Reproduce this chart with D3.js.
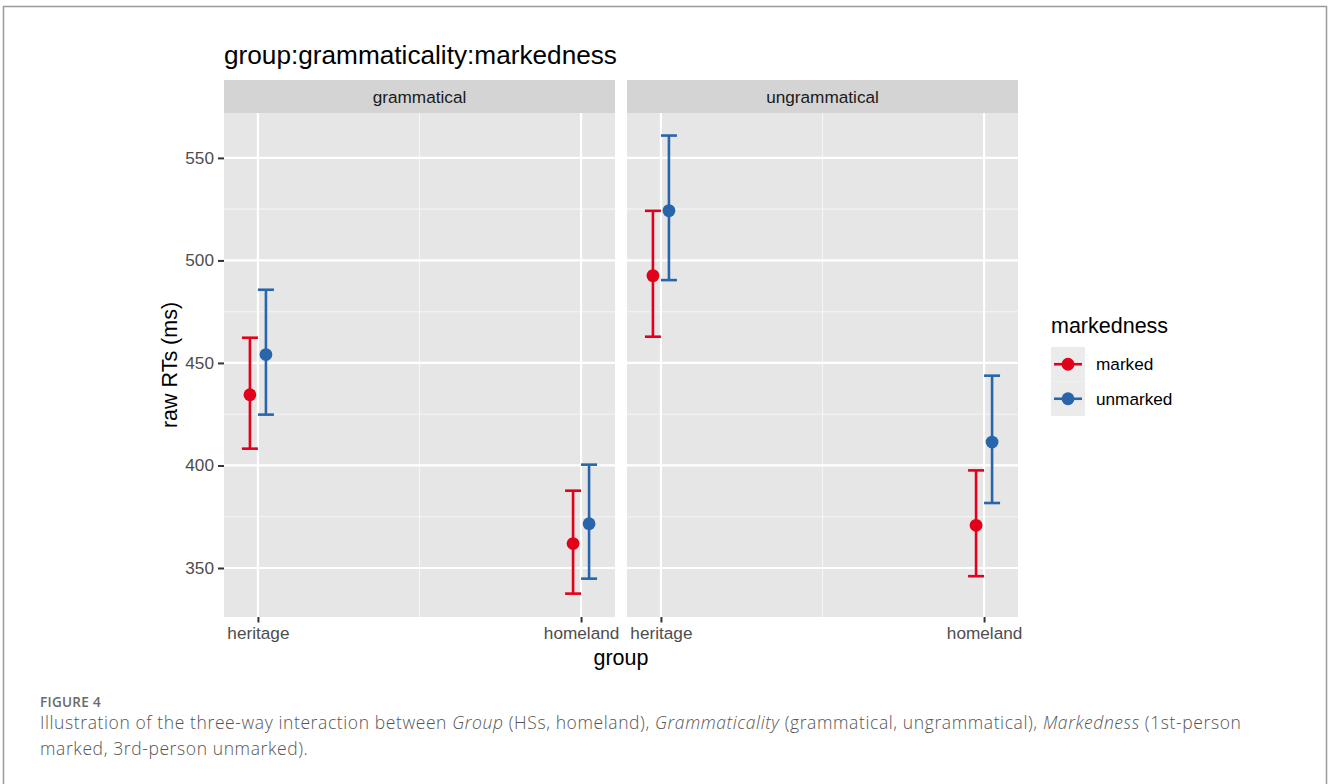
<!DOCTYPE html>
<html>
<head>
<meta charset="utf-8">
<script src="https://cdn.jsdelivr.net/npm/d3@7"></script>
<style>
  html, body { margin: 0; padding: 0; background: #ffffff; }
  svg { display: block; }
</style>
</head>
<body>
<svg id="chart" width="1328" height="784"></svg>
<script>
// Facets, x categories and colour groups
const panels = ["grammatical", "ungrammatical"];
const groups = ["heritage", "homeland"];
const markedness = ["marked", "unmarked"];

// Estimated means and interval bounds (raw RTs, ms), ordered as
// [heritage-marked, heritage-unmarked, homeland-marked, homeland-unmarked]
const grammaticalMean  = [434.5, 454.1, 361.9, 371.6];
const grammaticalLower = [408.2, 424.8, 337.5, 344.8];
const grammaticalUpper = [462.3, 485.7, 387.7, 400.4];

const ungrammaticalMean  = [492.6, 524.3, 370.8, 411.4];
const ungrammaticalLower = [462.8, 490.4, 346.0, 381.7];
const ungrammaticalUpper = [524.2, 560.9, 397.6, 443.8];

const yTicks = [350, 400, 450, 500, 550];
const yMinor = [375, 425, 475, 525];
const yDomain = [326.1, 571.9];

const palette = ["#E2001A", "#2865AB"];

// Long-format rows built from the arrays above
const rows = [];
[[grammaticalMean, grammaticalLower, grammaticalUpper],
 [ungrammaticalMean, ungrammaticalLower, ungrammaticalUpper]].forEach((set, p) => {
  groups.forEach((g, gi) => {
    markedness.forEach((m, mi) => {
      const k = gi * 2 + mi;
      rows.push({ panel: panels[p], group: g, mark: m,
                  mean: set[0][k], lo: set[1][k], hi: set[2][k] });
    });
  });
});

const svg = d3.select("#chart");
const FONT = "'Liberation Sans', Arial, Helvetica, sans-serif";

// Figure frame
svg.append("rect")
  .attr("x", 3.5).attr("y", 6.5).attr("width", 1323).attr("height", 800)
  .attr("fill", "none").attr("stroke", "#9a9a9a").attr("stroke-width", 1.5);

// Layout
const panelTop = 113, panelBottom = 617, stripTop = 80;
const panelX = { grammatical: [224, 615], ungrammatical: [627, 1018] };

const y = d3.scaleLinear().domain(yDomain).range([panelBottom, panelTop]);
const dodge = d3.scalePoint().domain(markedness).range([-8, 8]);
const color = d3.scaleOrdinal().domain(markedness).range(palette);

// Title
svg.append("text")
  .attr("x", 224).attr("y", 64)
  .attr("font-family", FONT).attr("font-size", 26.2).attr("fill", "#000")
  .text("group:grammaticality:markedness");

panels.forEach(p => {
  const [x0, x1] = panelX[p];
  const x = d3.scalePoint().domain(groups).range([x0, x1]).padding(0.105);
  const g = svg.append("g");

  // Strip
  g.append("rect").attr("x", x0).attr("y", stripTop)
    .attr("width", x1 - x0).attr("height", panelTop - stripTop).attr("fill", "#D4D4D4");
  g.append("text")
    .attr("x", (x0 + x1) / 2).attr("y", (stripTop + panelTop) / 2)
    .attr("dy", "0.35em").attr("text-anchor", "middle")
    .attr("font-family", FONT).attr("font-size", 17.2).attr("fill", "#1A1A1A")
    .text(p);

  // Panel background
  g.append("rect").attr("x", x0).attr("y", panelTop)
    .attr("width", x1 - x0).attr("height", panelBottom - panelTop).attr("fill", "#E6E6E6");

  // Minor grid
  g.selectAll(".ymin").data(yMinor).join("line")
    .attr("x1", x0).attr("x2", x1)
    .attr("y1", d => y(d)).attr("y2", d => y(d))
    .attr("stroke", "#F5F5F5").attr("stroke-width", 1.1);
  const mid = (x(groups[0]) + x(groups[1])) / 2;
  g.append("line").attr("x1", mid).attr("x2", mid)
    .attr("y1", panelTop).attr("y2", panelBottom)
    .attr("stroke", "#F5F5F5").attr("stroke-width", 1.1);

  // Major grid
  g.selectAll(".ymaj").data(yTicks).join("line")
    .attr("x1", x0).attr("x2", x1)
    .attr("y1", d => y(d)).attr("y2", d => y(d))
    .attr("stroke", "#FFFFFF").attr("stroke-width", 2.2);
  g.selectAll(".xmaj").data(groups).join("line")
    .attr("x1", d => x(d)).attr("x2", d => x(d))
    .attr("y1", panelTop).attr("y2", panelBottom)
    .attr("stroke", "#FFFFFF").attr("stroke-width", 2.2);

  // X axis
  const xAxis = d3.axisBottom(x).tickSize(5.5).tickPadding(4);
  const ax = svg.append("g").attr("transform", `translate(0,${panelBottom})`).call(xAxis);
  ax.select(".domain").remove();
  ax.selectAll(".tick line").attr("stroke", "#333333").attr("stroke-width", 2);
  ax.selectAll(".tick text")
    .attr("font-family", FONT).attr("font-size", 17.2).attr("fill", "#4D4D4D");

  // Error bars and points
  const data = rows.filter(r => r.panel === p);
  const cx = d => x(d.group) + dodge(d.mark);
  const marks = g.append("g").selectAll("g").data(data).join("g")
    .attr("stroke", d => color(d.mark)).attr("fill", d => color(d.mark));
  marks.append("line")
    .attr("x1", cx).attr("x2", cx)
    .attr("y1", d => y(d.lo)).attr("y2", d => y(d.hi))
    .attr("stroke-width", 2.6);
  marks.append("line")
    .attr("x1", d => cx(d) - 8).attr("x2", d => cx(d) + 8)
    .attr("y1", d => y(d.hi)).attr("y2", d => y(d.hi))
    .attr("stroke-width", 2.6);
  marks.append("line")
    .attr("x1", d => cx(d) - 8).attr("x2", d => cx(d) + 8)
    .attr("y1", d => y(d.lo)).attr("y2", d => y(d.lo))
    .attr("stroke-width", 2.6);
  marks.append("circle")
    .attr("cx", cx).attr("cy", d => y(d.mean)).attr("r", 6.4)
    .attr("stroke", "none");
});

// Y axis
const yAxis = d3.axisLeft(y).tickValues(yTicks).tickSize(6).tickPadding(4);
const ay = svg.append("g").attr("transform", `translate(${panelX.grammatical[0]},0)`).call(yAxis);
ay.select(".domain").remove();
ay.selectAll(".tick line").attr("stroke", "#333333").attr("stroke-width", 2);
ay.selectAll(".tick text")
  .attr("font-family", FONT).attr("font-size", 17.2).attr("fill", "#4D4D4D");

// Axis titles
svg.append("text")
  .attr("transform", `translate(177,${(panelTop + panelBottom) / 2}) rotate(-90)`)
  .attr("text-anchor", "middle")
  .attr("font-family", FONT).attr("font-size", 21.5).attr("fill", "#000")
  .text("raw RTs (ms)");
svg.append("text")
  .attr("x", (panelX.grammatical[0] + panelX.ungrammatical[1]) / 2).attr("y", 665)
  .attr("text-anchor", "middle")
  .attr("font-family", FONT).attr("font-size", 21.5).attr("fill", "#000")
  .text("group");

// Legend
const lg = svg.append("g").attr("transform", "translate(1051,0)");
lg.append("text").attr("x", 0).attr("y", 333)
  .attr("font-family", FONT).attr("font-size", 21.5).attr("fill", "#000")
  .text("markedness");
const keyTop = 347, keyH = 34.5, keyW = 34;
const keys = lg.selectAll(".key").data(markedness).join("g")
  .attr("transform", (d, i) => `translate(0,${keyTop + i * keyH})`);
keys.append("rect").attr("width", keyW).attr("height", keyH).attr("fill", "#EBEBEB");
keys.append("line")
  .attr("x1", 3).attr("x2", keyW - 3)
  .attr("y1", keyH / 2).attr("y2", keyH / 2)
  .attr("stroke", d => color(d)).attr("stroke-width", 2.6);
keys.append("circle")
  .attr("cx", keyW / 2).attr("cy", keyH / 2).attr("r", 6.4)
  .attr("fill", d => color(d));
keys.append("text")
  .attr("x", 45).attr("y", keyH / 2).attr("dy", "0.35em")
  .attr("font-family", FONT).attr("font-size", 17.2).attr("fill", "#000")
  .text(d => d);

// Figure caption
const CAP = "'Open Sans', 'Noto Sans', sans-serif";
svg.append("text").attr("x", 40).attr("y", 707)
  .attr("font-family", CAP).attr("font-size", 13.5).attr("font-weight", 600)
  .attr("letter-spacing", 0.3)
  .attr("fill", "#6A6A6A").text("FIGURE 4");

const captionLines = [
  [["Illustration of the three-way interaction between ", false], ["Group", true],
   [" (HSs, homeland), ", false], ["Grammaticality", true],
   [" (grammatical, ungrammatical), ", false], ["Markedness", true],
   [" (1st-person", false]],
  [["marked, 3rd-person unmarked).", false]]
];
captionLines.forEach((line, i) => {
  const t = svg.append("text").attr("x", 40).attr("y", 729 + i * 26)
    .attr("font-family", CAP).attr("font-size", 17.5).attr("font-weight", 300)
    .attr("letter-spacing", 0.6).attr("fill", "#555555");
  line.forEach(([s, it]) => t.append("tspan").attr("font-style", it ? "italic" : "normal").text(s));
});
</script>
</body>
</html>
